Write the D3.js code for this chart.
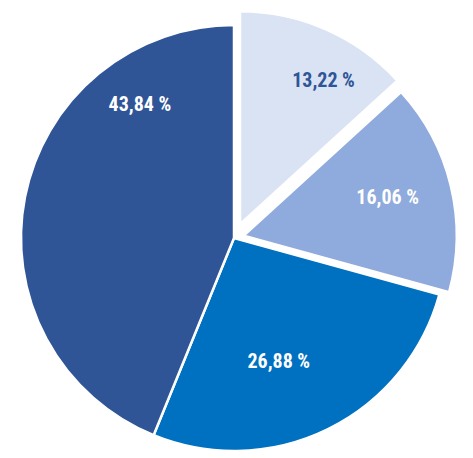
<!DOCTYPE html>
<html>
<head>
<meta charset="utf-8">
<script src="https://cdn.jsdelivr.net/npm/d3@7"></script>
<style>
  body { margin: 0; background: #fff; }
  svg { display: block; }
</style>
</head>
<body>
<div id="chart"></div>
<script>
// data
const labels = ["13,22 %", "16,06 %", "26,88 %", "43,84 %"]
const values = [13.22, 16.06, 26.88, 43.84]
const colors = ["#dae3f3", "#8faadc", "#0070c0", "#2f5597"]
const textColors = ["#2f5597", "#fff", "#fff", "#fff"]

// layout bits (pulled-out slices and hand placed labels)
const explode = [15, 10, 0, 0]
const labelAngle = [30, 75, 160, 325]   // degrees clockwise from top
const labelRadius = [167, 149, 131, 164]

let width = 473
let height = 458
let radius = 213

let svg = d3.select("#chart")
            .append("svg")
                .attr("width", width)
                .attr("height", height)
            .append("g")
                .attr("transform", `translate(234, 238)`)

let pie = d3.pie().sort(null).value(d => d)
let arcs = pie(values)

let arc = d3.arc()
    .innerRadius(0)
    .outerRadius(radius)

function shift(d, i) {
    let a = (d.startAngle + d.endAngle) / 2
    return [Math.sin(a) * explode[i], -Math.cos(a) * explode[i]]
}

svg.selectAll("path")
    .data(arcs)
    .enter()
    .append("path")
        .attr("d", arc)
        .attr("transform", (d, i) => `translate(${shift(d, i)})`)
        .style("fill", (d, i) => colors[i])
        .style("stroke", "#fff")
        .style("stroke-width", 2.5)
        .style("stroke-linejoin", "round")

svg.selectAll("text")
    .data(arcs)
    .enter()
    .append("text")
        .attr("x", (d, i) => shift(d, i)[0] + Math.sin(labelAngle[i] * Math.PI / 180) * labelRadius[i])
        .attr("y", (d, i) => shift(d, i)[1] - Math.cos(labelAngle[i] * Math.PI / 180) * labelRadius[i])
        .attr("dy", "0.35em")
        .attr("text-anchor", "middle")
        .text((d, i) => labels[i])
        .attr("font-family", "'Liberation Sans Narrow', 'Roboto Condensed', 'Open Sans', sans-serif")
        .attr("font-weight", "bold")
        .attr("font-size", "20px")
        .attr("fill", (d, i) => textColors[i])
</script>
</body>
</html>
